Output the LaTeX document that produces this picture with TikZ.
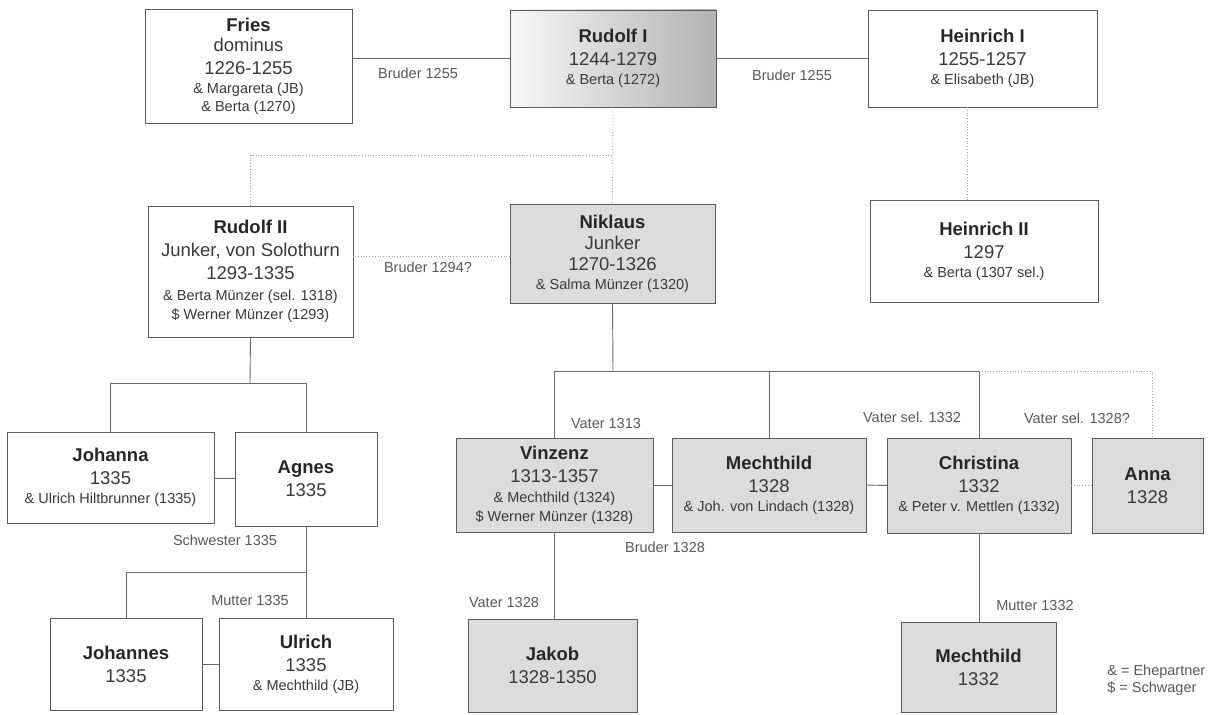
\documentclass[tikz,border=0pt]{standalone}
\usepackage{fontspec}
\setmainfont{Liberation Sans}

\definecolor{boxline}{HTML}{5A5A5A}
\definecolor{linkline}{HTML}{6A6A6A}
\definecolor{dotline}{HTML}{A0A0A0}
\definecolor{txt}{HTML}{3A3A3A}
\definecolor{shade}{HTML}{DCDCDC}

\newcommand{\pname}[1]{{\bfseries\color{black!85}\fontsize{18.5}{23}\selectfont #1}}
\newcommand{\pbig}[1]{{\fontsize{18.5}{23}\selectfont #1}}
\newcommand{\psmall}[1]{{\fontsize{14.5}{18}\selectfont #1}}

\begin{document}
\begin{tikzpicture}[x=1pt,y=-1pt,
  every node/.style={text=txt, outer sep=0pt},
  person/.style={draw=boxline, line width=0.9pt, align=center, inner sep=0pt,
    font=\fontsize{18.5}{23}\selectfont},
  kin/.style={person, fill=shade},
  rel/.style={font=\fontsize{14.5}{18}\selectfont, text=black!65},
  link/.style={draw=linkline, line width=0.9pt},
  maybe/.style={draw=dotline, line width=0.8pt, dotted}]
\useasboundingbox[fill=white] (0,0) rectangle (1214,714);

% first generation
\node[person, minimum width=207pt, minimum height=114pt] (fries) at (248.5,66)
  {\pname{Fries}\\[-3pt] \pbig{dominus}\\ \pbig{1226-1255}\\[-4pt] \psmall{\& Margareta (JB)}\\[-5pt] \psmall{\& Berta (1270)}};
\node[person, minimum width=206pt, minimum height=97pt,
  left color=black!3, right color=black!30] (rudolf1) at (613,58.5)
  {\pname{Rudolf I}\\ \pbig{1244-1279}\\[-4pt] \psmall{\& Berta (1272)}};
\node[person, minimum width=229pt, minimum height=97pt] (heinrich1) at (982.5,58.5)
  {\pname{Heinrich I}\\ \pbig{1255-1257}\\[-4pt] \psmall{\& Elisabeth (JB)}};

% second generation
\node[person, minimum width=205pt, minimum height=131pt] (rudolf2) at (250.5,271.5)
  {\pname{Rudolf II}\\ \pbig{Junker, von Solothurn}\\ \pbig{1293-1335}\\[-2pt] \psmall{\& Berta M\"unzer (sel. 1318)}\\[-4pt] \psmall{\$ Werner M\"unzer (1293)}};
\node[kin, minimum width=205pt, minimum height=99pt] (niklaus) at (612.5,253.5)
  {\pname{Niklaus}\\[-2pt] \pbig{Junker}\\[-2pt] \pbig{1270-1326}\\[-4pt] \psmall{\& Salma M\"unzer (1320)}};
\node[person, minimum width=228pt, minimum height=102pt] (heinrich2) at (984,251)
  {\pname{Heinrich II}\\ \pbig{1297}\\[-4pt] \psmall{\& Berta (1307 sel.)}};

% third generation
\node[person, minimum width=207pt, minimum height=91pt] (johanna) at (110.5,477.5)
  {\pname{Johanna}\\ \pbig{1335}\\[-4pt] \psmall{\& Ulrich Hiltbrunner (1335)}};
\node[person, minimum width=142pt, minimum height=94pt] (agnes) at (306,479)
  {\pname{Agnes}\\ \pbig{1335}};
\node[kin, minimum width=197pt, minimum height=94pt] (vinzenz) at (554.5,485)
  {\pname{Vinzenz}\\ \pbig{1313-1357}\\[-3pt] \psmall{\& Mechthild (1324)}\\[-4pt] \psmall{\$ Werner M\"unzer (1328)}};
\node[kin, minimum width=194pt, minimum height=94pt] (mechthild) at (769,485)
  {\pname{Mechthild}\\ \pbig{1328}\\[-4pt] \psmall{\& Joh. von Lindach (1328)}};
\node[kin, minimum width=184pt, minimum height=95pt] (christina) at (979,485.5)
  {\pname{Christina}\\ \pbig{1332}\\[-4pt] \psmall{\& Peter v. Mettlen (1332)}};
\node[kin, minimum width=111pt, minimum height=95pt] (anna) at (1147.5,485.5)
  {\pname{Anna}\\ \pbig{1328}};

% fourth generation
\node[person, minimum width=152pt, minimum height=92pt] (johannes) at (126,664)
  {\pname{Johannes}\\ \pbig{1335}};
\node[person, minimum width=174pt, minimum height=92pt] (ulrich) at (306,664)
  {\pname{Ulrich}\\ \pbig{1335}\\[-4pt] \psmall{\& Mechthild (JB)}};
\node[kin, minimum width=169pt, minimum height=93pt] (jakob) at (552.5,665.5)
  {\pname{Jakob}\\ \pbig{1328-1350}};
\node[kin, minimum width=155pt, minimum height=90pt] (mechthild2) at (978.5,667)
  {\pname{Mechthild}\\ \pbig{1332}};

% forks
\coordinate (topfork) at (613,155);
\coordinate (rfork) at (250,383);
\coordinate (nfork) at (613,371);
\coordinate (afork) at (306,572);

% connectors
\draw[link] (rudolf1.west) -- (rudolf1.west -| fries.east);
\draw[link] (rudolf1.east) -- (heinrich1.west);
\draw[maybe] (rudolf1.south) -- (niklaus.north);
\draw[maybe] (rudolf2.north) |- (topfork);
\draw[maybe] ([xshift=-15pt]heinrich1.south) -- ([xshift=-15pt]heinrich1.south |- heinrich2.north);
\draw[maybe] (niklaus.west |- 0,256) -- (rudolf2.east |- 0,256);

\draw[link] (rudolf2.south) -- (rfork);
\draw[link] (johanna.north) |- (agnes.north |- rfork) -- (agnes.north);
\draw[link] (johanna.east |- 0,478) -- (agnes.west |- 0,478);
\draw[link] (agnes.south) -- (ulrich.north);
\draw[link] (johannes.north) |- (afork);
\draw[link] (johannes.east) -- (johannes.east -| ulrich.west);

\draw[link] (niklaus.south) -- (nfork);
\draw[link] (vinzenz.north) |- (christina.north |- nfork) -- (christina.north);
\draw[link] (mechthild.north) -- (mechthild.north |- nfork);
\draw[maybe] (christina.north |- nfork) -| (anna.north -| 1152,0);
\draw[link] (vinzenz.east) -- (mechthild.west);
\draw[link] (mechthild.east) -- (christina.west);
\draw[maybe] (christina.east) -- (anna.west);
\draw[link] (vinzenz.south) -- (vinzenz.south |- jakob.north);
\draw[link] (christina.south) -- (christina.south |- mechthild2.north);

% relation labels
\node[rel] (l1) at (418,73) {Bruder 1255};
\node[rel] (l2) at (792,75) {Bruder 1255};
\node[rel] (l3) at (428,267) {Bruder 1294?};
\node[rel] (l4) at (225,540) {Schwester 1335};
\node[rel] (l5) at (250,601) {Mutter 1335};
\node[rel] (l6) at (606,424) {Vater 1313};
\node[rel] (l7) at (912,417) {Vater sel. 1332};
\node[rel] (l8) at (1077,418) {Vater sel. 1328?};
\node[rel] (l9) at (665,547) {Bruder 1328};
\node[rel] (l10) at (504,603) {Vater 1328};
\node[rel] (l11) at (1035,606) {Mutter 1332};

% legend
\node[rel, anchor=west] (legA) at (1104,672) {\& = Ehepartner};
\node[rel, anchor=west] (legB) at (1104,689) {\$ = Schwager};
\end{tikzpicture}
\end{document}
